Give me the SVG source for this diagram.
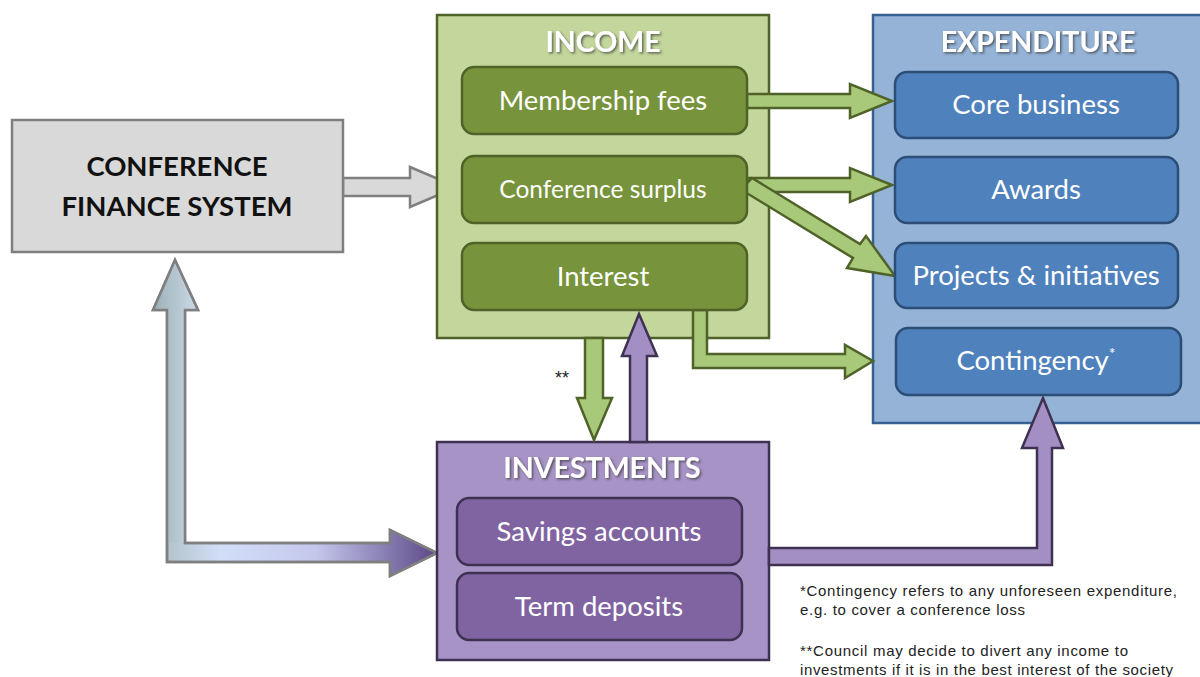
<svg xmlns="http://www.w3.org/2000/svg" width="1200" height="677" viewBox="0 0 1200 677">
<defs>
<style>
.lbl{font-family:Lato,"Open Sans","Liberation Sans",sans-serif;fill:#fff;text-anchor:middle}
.ttl{font-family:Lato,"Open Sans","Liberation Sans",sans-serif;font-weight:bold;fill:#fff;text-anchor:middle;font-size:28.5px}
.note{font-family:"Liberation Sans",Arial,sans-serif;fill:#222}
.garrow{fill:#a9c97a;stroke:#4f6228;stroke-width:2.5;stroke-linejoin:miter}
.parrow{fill:#a38fc4;stroke:#3f3151;stroke-width:2.5}
.gbox{fill:#77933c;stroke:#4f6228;stroke-width:2.5}
.bbox{fill:#4f81bd;stroke:#2c4d75;stroke-width:2.5}
.pbox{fill:#8064a2;stroke:#3f3151;stroke-width:2.5}
</style>
<filter id="sh" x="-10%" y="-20%" width="130%" height="150%">
<feDropShadow dx="1.5" dy="1.5" stdDeviation="1" flood-color="#333" flood-opacity="0.7"/>
</filter>
<linearGradient id="vgrad" x1="0" y1="0" x2="1" y2="0">
<stop offset="0" stop-color="#9fb2b8"/>
<stop offset="1" stop-color="#c9d8e6"/>
</linearGradient>
<linearGradient id="hgrad" gradientUnits="userSpaceOnUse" x1="167" y1="0" x2="437" y2="0">
<stop offset="0" stop-color="#b4c4cc"/>
<stop offset="0.2" stop-color="#d2def8"/>
<stop offset="0.55" stop-color="#c4c8ec"/>
<stop offset="1" stop-color="#5c4888"/>
</linearGradient>
</defs>

<g id="connectors">
<path d="M343,178 H410 V167 L457,187 L410,207 V196 H343 Z" fill="#d9d9d9" stroke="#7f7f7f" stroke-width="2.5"/>
<path d="M175,260 L198,310 H185 V543 H390 V530 L437,553 L390,576 V562 H167 V310 H153 Z" fill="url(#hgrad)" stroke="#7f7f7f" stroke-width="2.5"/>
<path d="M175,262 L196,309 H185 V543 H168 V309 H155 Z" fill="url(#vgrad)"/>
<path d="M175,260 L198,310 H185 V543 H390 V530 L437,553 L390,576 V562 H167 V310 H153 Z" fill="none" stroke="#7f7f7f" stroke-width="2.5"/>
</g>

<g id="income">
<rect x="437" y="15" width="332" height="323" fill="#c3d69b" stroke="#4f6228" stroke-width="2.5"/>
<text class="ttl" x="603" y="52" filter="url(#sh)">INCOME</text>
</g>
<g id="expenditure">
<rect x="873" y="15" width="340" height="408" fill="#95b3d7" stroke="#376092" stroke-width="2.5"/>
<text class="ttl" x="1038" y="52" filter="url(#sh)">EXPENDITURE</text>
</g>
<g id="investments">
<rect x="437" y="442" width="332" height="218" fill="#a793c6" stroke="#3f3151" stroke-width="2.5"/>
<text class="ttl" x="602" y="478" filter="url(#sh)">INVESTMENTS</text>
</g>

<g id="connectors2">
<path class="garrow" d="M747,94 H850 V84 L892,101 L850,118 V108 H747 Z"/>
<path class="garrow" d="M747,178 H850 V168 L892,185 L850,202 V192 H747 Z"/>
<path class="garrow" d="M747,183 L752,178 L860,244 L866,236 L895,276 L847,268 L853,258 L745,192 Z"/>
<path class="garrow" d="M693,310 V368 H845 V378 L873,361 L845,345 V354 H707 V310 Z"/>
<path class="garrow" d="M585,338 V398 H577 L594,440 L612,398 H603 V338 Z"/>
<path class="parrow" d="M630,442 V356 H622 L639,314 L657,356 H647 V442 Z"/>
<path class="parrow" d="M769,548 H1037 V448 H1022 L1043,398 L1063,448 H1052 V565 H769 Z"/>
</g>

<g id="finance-system">
<rect x="12" y="120" width="331" height="132" fill="#d9d9d9" stroke="#7f7f7f" stroke-width="2.5"/>
<text x="177" y="176" font-family="Lato,'Open Sans','Liberation Sans',sans-serif" font-weight="bold" font-size="27.5" fill="#111" text-anchor="middle">CONFERENCE</text>
<text x="177" y="216" font-family="Lato,'Open Sans','Liberation Sans',sans-serif" font-weight="bold" font-size="27.5" fill="#111" text-anchor="middle">FINANCE SYSTEM</text>
</g>

<g id="membership-fees">
<rect class="gbox" x="462" y="67" width="285" height="67" rx="12"/>
<text class="lbl" x="603" y="110" font-size="27.5">Membership fees</text>
</g>
<g id="conference-surplus">
<rect class="gbox" x="462" y="156" width="285" height="67" rx="12"/>
<text class="lbl" x="603" y="198" font-size="24.5">Conference surplus</text>
</g>
<g id="interest">
<rect class="gbox" x="462" y="243" width="285" height="67" rx="12"/>
<text class="lbl" x="603" y="286" font-size="27.5">Interest</text>
</g>

<g id="core-business">
<rect class="bbox" x="895" y="72" width="283" height="66" rx="12"/>
<text class="lbl" x="1036" y="114" font-size="27.5">Core business</text>
</g>
<g id="awards">
<rect class="bbox" x="895" y="157" width="283" height="66" rx="12"/>
<text class="lbl" x="1036" y="199" font-size="27.5">Awards</text>
</g>
<g id="projects">
<rect class="bbox" x="895" y="243" width="283" height="65" rx="12"/>
<text class="lbl" x="1036" y="285" font-size="27.5">Projects &amp; initiatives</text>
</g>
<g id="contingency">
<rect class="bbox" x="896" y="328" width="285" height="67" rx="12"/>
<text class="lbl" x="1036" y="370" font-size="27.5">Contingency<tspan font-size="16" dy="-11">*</tspan></text>
</g>

<g id="savings">
<rect class="pbox" x="457" y="498" width="285" height="67" rx="12"/>
<text class="lbl" x="599" y="541" font-size="27.5">Savings accounts</text>
</g>
<g id="term">
<rect class="pbox" x="457" y="573" width="285" height="67" rx="12"/>
<text class="lbl" x="599" y="616" font-size="27.5">Term deposits</text>
</g>

<g id="notes">
<text class="note" x="555" y="384" font-size="18">**</text>
<text class="note" x="800" y="596" font-size="15" textLength="377">*Contingency refers to any unforeseen expenditure,</text>
<text class="note" x="800" y="615" font-size="15" textLength="225">e.g. to cover a conference loss</text>
<text class="note" x="800" y="656" font-size="15" textLength="328">**Council may decide to divert any income to</text>
<text class="note" x="800" y="675" font-size="15" textLength="373">investments if it is in the best interest of the society</text>
</g>
</svg>
